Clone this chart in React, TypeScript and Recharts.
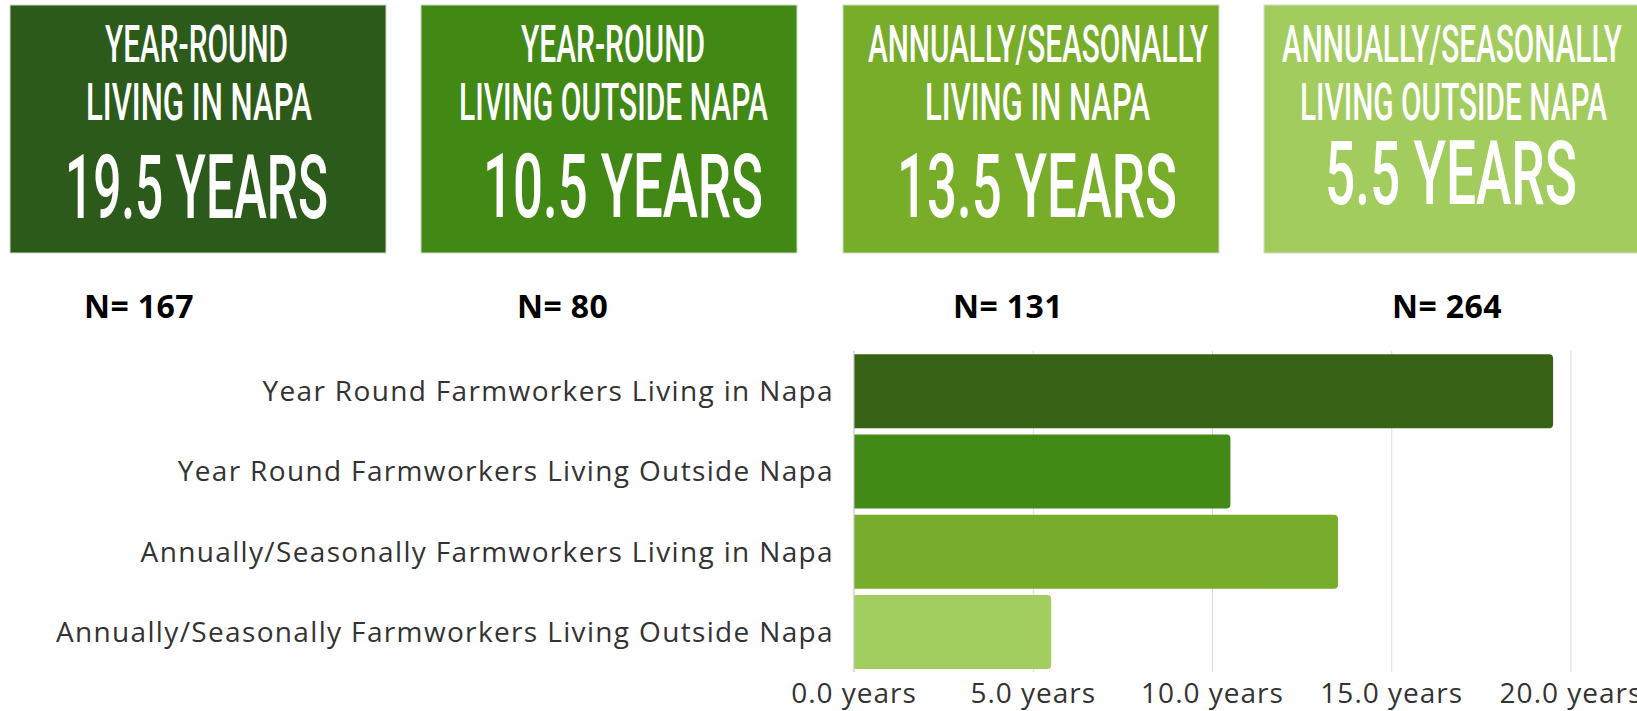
import { useLayoutEffect, useRef, useState } from "react";
import { Bar, BarChart, CartesianGrid, Cell, XAxis, YAxis } from "recharts";

const categories = [
  "Year Round Farmworkers Living in Napa",
  "Year Round Farmworkers Living Outside Napa",
  "Annually/Seasonally Farmworkers Living in Napa",
  "Annually/Seasonally Farmworkers Living Outside Napa",
];
const years = [19.5, 10.5, 13.5, 5.5];
const sampleSizes = [167, 80, 131, 264];
const boxTitleTop = ["YEAR-ROUND", "YEAR-ROUND", "ANNUALLY/SEASONALLY", "ANNUALLY/SEASONALLY"];
const boxTitleBottom = ["LIVING IN NAPA", "LIVING OUTSIDE NAPA", "LIVING IN NAPA", "LIVING OUTSIDE NAPA"];
const xTicks = [0, 5, 10, 15, 20];

const boxColors = ["#2C5A1A", "#428814", "#78AD2A", "#A2CD5E"];
const barColors = ["#386314", "#428A16", "#78AD2C", "#A2CD5F"];

// headline boxes: left edge, text spans [x, width, baseline]
const boxLeft = [10, 421, 843, 1264];
const topSpan = [[105, 183], [521, 184], [868, 340], [1282, 340]];
const bottomSpan = [[86, 226], [459, 309], [925, 225], [1300, 307]];
const bigSpan = [[65, 263, 218], [483, 280, 217], [897, 280, 217], [1325, 252, 204]];
const nLabelX = [84, 517, 953, 1392];

const data = categories.map((name, i) => ({ name, years: years[i] }));

const axisFont = "'Open Sans', sans-serif";

// condensed headline text: squeeze a regular face to the measured width
function FitText({ x, y, width, size, text }: { x: number; y: number; width: number; size: number; text: string }) {
  const ref = useRef<SVGTextElement>(null);
  const [sx, setSx] = useState(0.55);
  useLayoutEffect(() => {
    const w = ref.current ? ref.current.getComputedTextLength() : 0;
    if (w > 0) setSx(width / w);
  }, [width, text]);
  return (
    <text
      ref={ref}
      transform={`translate(${x},${y}) scale(${sx},1)`}
      fill="#fff"
      fontFamily="Roboto, sans-serif"
      fontWeight={500}
      fontSize={size}
    >
      {text}
    </text>
  );
}

function HeadlineBoxes() {
  return (
    <svg width={1637} height={340} style={{ position: "absolute", left: 0, top: 0, pointerEvents: "none" }}>
      {years.map((v, i) => (
        <g key={i}>
          <rect x={boxLeft[i]} y={5} width={376} height={248} fill={boxColors[i]} stroke="#cfdcc8" strokeWidth={1} />
          <FitText x={topSpan[i][0]} y={62} width={topSpan[i][1]} size={52} text={boxTitleTop[i]} />
          <FitText x={bottomSpan[i][0]} y={120} width={bottomSpan[i][1]} size={52} text={boxTitleBottom[i]} />
          <FitText x={bigSpan[i][0]} y={bigSpan[i][2]} width={bigSpan[i][1]} size={89} text={`${v.toFixed(1)} YEARS`} />
          <text
            x={nLabelX[i]}
            y={318}
            fill="#000"
            fontFamily={axisFont}
            fontWeight={700}
            fontSize={32}
            letterSpacing={0.4}
          >
            {`N= ${sampleSizes[i]}`}
          </text>
        </g>
      ))}
    </svg>
  );
}

export default function App() {
  return (
    <div style={{ position: "fixed", left: 0, top: 0, width: 1637, height: 711, overflow: "hidden", background: "#fff" }}>
      <BarChart
        width={1637}
        height={711}
        data={data}
        layout="vertical"
        barCategoryGap="3.9%"
        margin={{ top: 351, right: 66, bottom: 0, left: 0 }}
      >
        <CartesianGrid horizontal={false} stroke="#dcdcdc" />
        <XAxis
          type="number"
          domain={[0, 20]}
          ticks={xTicks}
          tickFormatter={(v: number) => `${v.toFixed(1)} years`}
          axisLine={false}
          tickLine={false}
          tickSize={0}
          tickMargin={11}
          height={39}
          interval={0}
          tick={{ fill: "#333", fontSize: 28, fontFamily: axisFont, letterSpacing: 1 }}
        />
        <YAxis
          type="category"
          dataKey="name"
          width={854}
          axisLine={{ stroke: "#cccccc" }}
          tickLine={false}
          tickSize={0}
          tickMargin={20}
          interval={0}
          tick={{ fill: "#333", fontSize: 28, fontFamily: axisFont, letterSpacing: 1.35 }}
        />
        <Bar dataKey="years" radius={[0, 4, 4, 0]} isAnimationActive={false}>
          {data.map((_, i) => (
            <Cell key={i} fill={barColors[i]} />
          ))}
        </Bar>
      </BarChart>
      <HeadlineBoxes />
    </div>
  );
}
